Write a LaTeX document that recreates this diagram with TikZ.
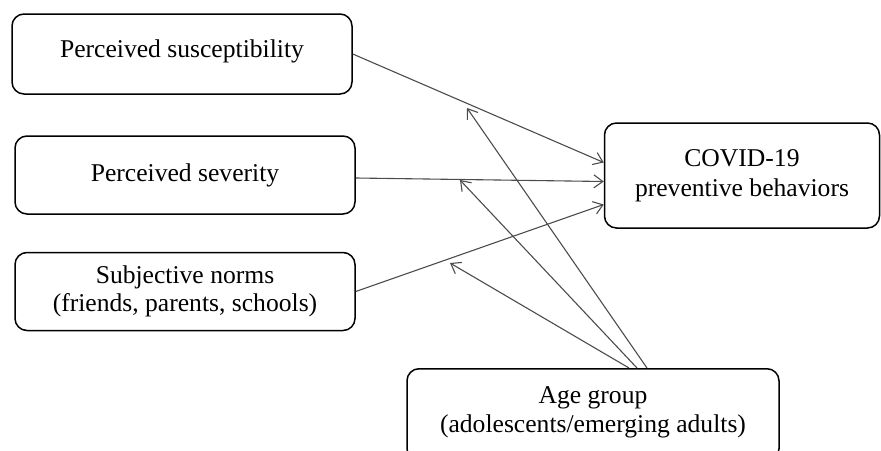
\documentclass[tikz,border=0pt]{standalone}
\usepackage{fontspec}
\setmainfont{Liberation Serif}
\usetikzlibrary{arrows.meta}
\newcommand{\boxFont}[0]{\fontsize{25.6}{28}\selectfont}

\begin{document}
\begin{tikzpicture}[x=1pt, y=-1pt]
  \tikzset{factor/.style={draw, line width=1.5pt, rounded corners=12pt, align=center,
      font=\boxFont, inner sep=0pt, minimum width=340pt, minimum height=78pt},
    path/.style={draw=black!70, line width=1.1pt, -{Straight Barb[length=9pt, width=13pt]}}}
  \useasboundingbox (0,0) rectangle (881,450);
  \node[factor, minimum height=80pt, text height=43pt, text depth=37pt] (suscept) at (182,54) {Perceived susceptibility};
  \node[factor] (severity) at (185,175) {Perceived severity};
  \node[factor] (norms) at (185,291.5) {Subjective norms\\(friends, parents, schools)};
  \node[factor, minimum width=275pt, minimum height=105pt, font=\fontsize{25.6}{30}\selectfont] (covid) at (742,175.5) {COVID-19\\preventive behaviors};
  \node[factor, minimum width=372pt, text height=64pt, text depth=28pt, anchor=north, font=\fontsize{25.6}{29}\selectfont] (age) at (593,368) {Age group\\(adolescents/emerging adults)};
  \coordinate (modA) at (467,108);
  \coordinate (modB) at (460,180);
  \coordinate (modC) at (450,263);
  \draw[path] (suscept.east) -- ([yshift=13pt]covid.west);
  \draw[path] ([yshift=-3pt]severity.east) -- ([yshift=-6pt]covid.west);
  \draw[path] (norms.east) -- ([yshift=-29pt]covid.west);
  \draw[path] ([xshift=54pt]age.north) -- (modA);
  \draw[path] ([xshift=44pt]age.north) -- (modB);
  \draw[path] ([xshift=36pt]age.north) -- (modC);
\end{tikzpicture}
\end{document}
